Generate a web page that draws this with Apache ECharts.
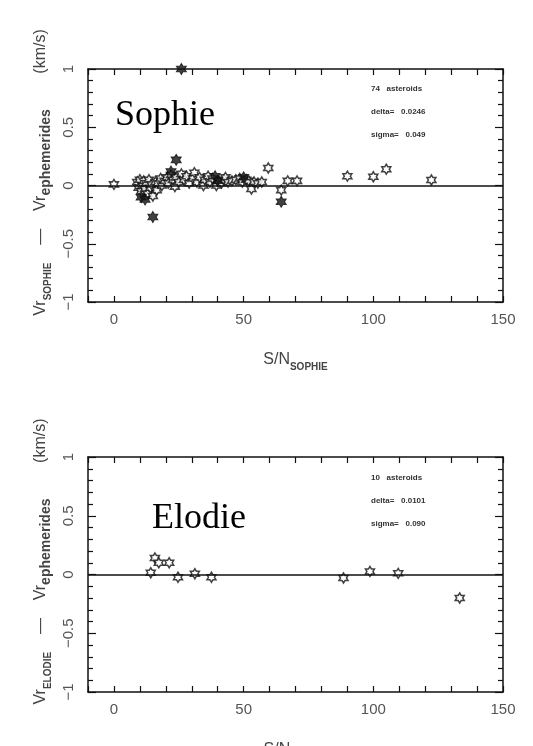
<!DOCTYPE html>
<html>
<head>
<meta charset="utf-8">
<script src="https://cdn.jsdelivr.net/npm/echarts@6.0.0/dist/echarts.min.js"></script>
<style>
  html, body { margin: 0; padding: 0; background: #fff; }
  #chart { width: 533px; height: 746px; }
</style>
</head>
<body>
<div id="chart"></div>
<script>
// S/N vs radial-velocity residual (km/s)
const sophieOpen = [
  [0, 0.01],
  [9, 0.03], [9.5, -0.02], [10, 0.05], [10.5, -0.05], [11, 0.0], [11.5, 0.04], [12, -0.03],
  [12.5, 0.02], [13, -0.07], [13.5, 0.05], [14, -0.02], [14.5, 0.01], [15, -0.09], [16, 0.03],
  [16.5, -0.04], [17, 0.02], [18, 0.06], [18.5, 0.0], [19.5, 0.04], [20.5, 0.07], [21, 0.02],
  [22, 0.09], [22.8, 0.05], [23.5, -0.01], [24, 0.07], [25, 0.03], [26, 0.1], [27, 0.05],
  [28, 0.08], [29, 0.02], [30.5, 0.06], [31, 0.11], [32, 0.03], [33, 0.07], [34.5, 0.0],
  [35, 0.05], [36.3, 0.08], [37, 0.03], [38, 0.06], [39.5, 0.0], [40.5, 0.04], [41.5, 0.02],
  [42.5, 0.05], [43, 0.07], [44, 0.03], [45.5, 0.04], [47, 0.05], [48.5, 0.06], [49.5, 0.03],
  [51, 0.05], [52, 0.04], [53, -0.03], [54, 0.03], [55.5, 0.02], [57, 0.03],
  [59.5, 0.15], [64.5, -0.04], [67, 0.04], [70.6, 0.04],
  [90, 0.08], [100, 0.075], [105, 0.14], [122.4, 0.047]
];
const sophieFilled = [
  [26, 1.0], [24, 0.22], [15, -0.27], [64.5, -0.14],
  [10.5, -0.1], [12, -0.12], [22, 0.12], [39, 0.08], [40, 0.04], [50, 0.07]
];
const elodiePoints = [
  [14.2, 0.015], [15.8, 0.14], [17.3, 0.10], [21.3, 0.10], [24.7, -0.023], [31.2, 0.006],
  [37.6, -0.023], [88.5, -0.03], [98.7, 0.026], [109.6, 0.01], [133.3, -0.20]
];
const sophieStats = ['74   asteroids', 'delta=   0.0246', 'sigma=   0.049'];
const elodieStats = ['10   asteroids', 'delta=   0.0101', 'sigma=   0.090'];
const xLabelSteps = [0, 50, 100, 150];

const star = 'path://M0,-10L2.887,-5L8.66,-5L5.774,0L8.66,5L2.887,5L0,10L-2.887,5L-8.66,5L-5.774,0L-8.66,-5L-2.887,-5Z';
const font = 'Liberation Sans';
const ink = '#111';

function xAxes(gridIndex, inst) {
  const base = {
    gridIndex, type: 'value', min: -10, max: 150, interval: 10,
    splitLine: { show: false },
    axisLine: { onZero: false, lineStyle: { color: ink, width: 1.5 } },
    axisTick: { inside: true, length: 6, lineStyle: { color: ink, width: 1.2 } }
  };
  return [
    Object.assign({}, base, {
      position: 'bottom',
      axisLabel: {
        margin: 10, color: '#555', fontFamily: font, fontSize: 15,
        formatter: v => xLabelSteps.includes(v) ? String(v) : ''
      },
      name: '{m|S/N}{s|' + inst + '}',
      nameLocation: 'middle', nameGap: 46,
      nameTextStyle: {
        rich: {
          m: { fontFamily: font, fontSize: 16, color: '#444', lineHeight: 24 },
          s: { fontFamily: font, fontSize: 10, fontWeight: 'bold', color: '#444', verticalAlign: 'bottom', lineHeight: 14 }
        }
      }
    }),
    Object.assign({}, base, { position: 'top', axisLabel: { show: false } })
  ];
}

function yAxes(gridIndex, inst) {
  const base = {
    gridIndex, type: 'value', min: -1, max: 1, interval: 0.5,
    splitLine: { show: false },
    axisLine: { onZero: false, lineStyle: { color: ink, width: 1.5 } },
    axisTick: { inside: true, length: 8, lineStyle: { color: ink, width: 1.2 } },
    minorTick: { show: true, splitNumber: 5, length: 5, lineStyle: { color: ink, width: 1.2 } }
  };
  return [
    Object.assign({}, base, {
      position: 'left',
      axisLabel: {
        rotate: 90, margin: 12, color: '#555', fontFamily: font, fontSize: 15,
        formatter: v => String(v).replace('-', '\u2212')
      },
      name: '{m|Vr}{s|' + inst + '}{m|    \u2014    Vr}{e|ephemerides}{m|        (km/s)}',
      nameLocation: 'middle', nameGap: 35, nameRotate: 90,
      nameTextStyle: {
        padding: [0, 0, 0, 26],
        rich: {
          m: { fontFamily: font, fontSize: 16, color: '#444', lineHeight: 24 },
          s: { fontFamily: font, fontSize: 10, fontWeight: 'bold', color: '#444', verticalAlign: 'bottom', lineHeight: 14 },
          e: { fontFamily: font, fontSize: 14, fontWeight: 'bold', color: '#444', verticalAlign: 'bottom', lineHeight: 14 }
        }
      }
    }),
    Object.assign({}, base, { position: 'right', axisLabel: { show: false } })
  ];
}

function zeroLine() {
  return {
    silent: true, symbol: 'none', label: { show: false },
    lineStyle: { color: ink, type: 'solid', width: 1.5 },
    data: [{ yAxis: 0 }]
  };
}

function statsText(lines, top) {
  return lines.map((t, i) => ({
    type: 'text', left: 371, top: top + i * 23,
    style: { text: t, fontFamily: font, fontSize: 8, fontWeight: 'bold', fill: '#333' }
  }));
}

const chart = echarts.init(document.getElementById('chart'));
chart.setOption({
  animation: false,
  backgroundColor: '#fff',
  grid: [
    { left: 88, top: 69, right: 30, height: 233, outerBoundsMode: 'none' },
    { left: 88, top: 457, right: 30, height: 235, outerBoundsMode: 'none' }
  ],
  xAxis: [...xAxes(0, 'SOPHIE'), ...xAxes(1, 'ELODIE')],
  yAxis: [...yAxes(0, 'SOPHIE'), ...yAxes(1, 'ELODIE')],
  series: [
    {
      type: 'scatter', xAxisIndex: 0, yAxisIndex: 0, data: sophieOpen,
      symbol: star, symbolSize: [9, 10],
      itemStyle: { color: '#fff', borderColor: ink, borderWidth: 1.5 },
      markLine: zeroLine(), z: 3
    },
    {
      type: 'scatter', xAxisIndex: 0, yAxisIndex: 0, data: sophieFilled,
      symbol: star, symbolSize: [10, 11],
      itemStyle: { color: ink, borderColor: ink, borderWidth: 1 }, z: 4
    },
    {
      type: 'scatter', xAxisIndex: 2, yAxisIndex: 2, data: elodiePoints,
      symbol: star, symbolSize: [9, 10],
      itemStyle: { color: '#fff', borderColor: ink, borderWidth: 1.5 },
      markLine: zeroLine(), z: 3
    }
  ],
  graphic: [
    { type: 'text', left: 115, top: 98, style: { text: 'Sophie', fontFamily: 'Liberation Serif', fontSize: 36, fill: '#000' } },
    { type: 'text', left: 152, top: 501, style: { text: 'Elodie', fontFamily: 'Liberation Serif', fontSize: 36, fill: '#000' } },
    ...statsText(sophieStats, 85),
    ...statsText(elodieStats, 474)
  ]
});
</script>
</body>
</html>
